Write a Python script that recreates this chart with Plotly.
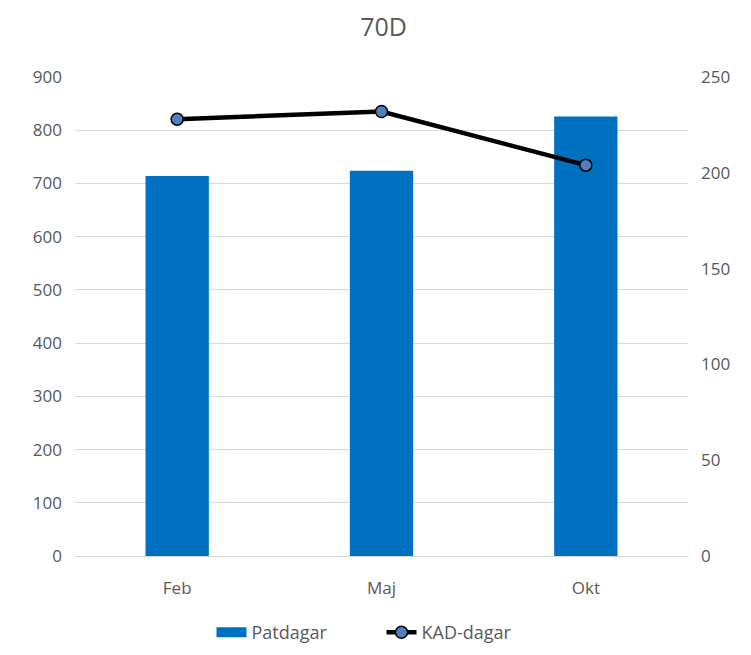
import plotly.graph_objects as go

# Data
months = ["Feb", "Maj", "Okt"]
patdagar = [714, 724, 826]
kad_dagar = [228, 232, 204]

left_ticks = list(range(0, 1000, 100))
right_ticks = list(range(0, 300, 50))

font_family = "Open Sans, Liberation Sans, Arial"
grey = "#595959"
bar_blue = "#0070c0"

fig = go.Figure()

fig.add_trace(go.Bar(
    x=months, y=patdagar, name="Patdagar",
    marker=dict(color=bar_blue, line=dict(width=0)),
    width=0.31, showlegend=False,
))

# legend-only entry so the bar key is drawn as a wide block like the original
fig.add_trace(go.Scatter(
    x=[None], y=[None], name="Patdagar", mode="lines",
    line=dict(color=bar_blue, width=13),
))

fig.add_trace(go.Scatter(
    x=months, y=kad_dagar, name="KAD-dagar", yaxis="y2",
    mode="lines+markers",
    line=dict(color="black", width=4.5),
    marker=dict(size=12, color="#4f81bd", line=dict(color="black", width=1.5)),
))

# the page adds an 8px body margin, so margins are shifted to compensate
fig.update_layout(
    width=751, height=655,
    paper_bgcolor="white", plot_bgcolor="white",
    margin=dict(l=67, r=71, t=69, b=102),
    title=dict(text="70D", x=0.5, xanchor="center", y=0.97, yanchor="middle",
               font=dict(family=font_family, size=25, color=grey)),
    font=dict(family=font_family, size=17, color=grey),
    xaxis=dict(showgrid=False, showline=False, ticks="",
               ticklabelstandoff=20,
               tickfont=dict(size=17, color=grey)),
    yaxis=dict(range=[0, 900], tickvals=left_ticks, showgrid=True,
               gridcolor="#d9d9d9", gridwidth=1.3, zeroline=True,
               zerolinecolor="#d9d9d9", zerolinewidth=1.3,
               ticks="", ticklabelstandoff=12,
               tickfont=dict(size=17, color=grey)),
    yaxis2=dict(range=[0, 250], tickvals=right_ticks, overlaying="y",
                side="right", showgrid=False, zeroline=False, ticks="",
                ticklabelstandoff=12, tickfont=dict(size=17, color=grey)),
    legend=dict(orientation="h", x=0.5, xanchor="center", y=-0.16,
                yanchor="middle", font=dict(size=18, color=grey),
                entrywidth=125, traceorder="normal"),
    showlegend=True,
)

fig.write_html("out.html")
